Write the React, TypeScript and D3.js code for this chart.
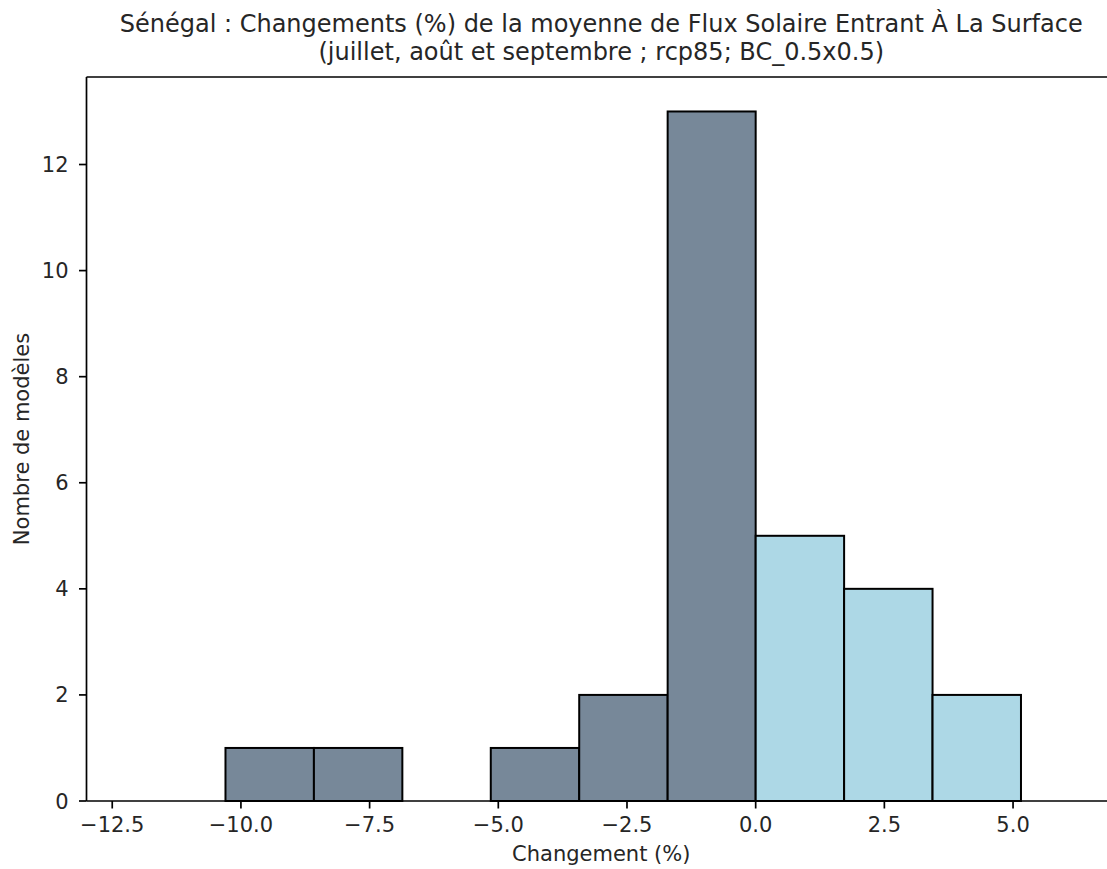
import React from "react";
import * as d3 from "d3";

const binEdges = [-10.3, -8.582, -6.864, -5.146, -3.428, -1.71, 0.0, 1.718, 3.436, 5.154];
const counts = [1, 1, 0, 1, 2, 13, 5, 4, 2];
const xTicks = [-12.5, -10.0, -7.5, -5.0, -2.5, 0.0, 2.5, 5.0];
const yTicks = [0, 2, 4, 6, 8, 10, 12];
const titleLines = [
  "Sénégal : Changements (%) de la moyenne de Flux Solaire Entrant À La Surface",
  "(juillet, août et septembre ; rcp85; BC_0.5x0.5)",
];
const xLabel = "Changement (%)";
const yLabel = "Nombre de modèles";
const negColor = "#778899";
const posColor = "#add8e6";

export default function App() {
  const W = 1107, H = 869;
  const left = 86.5, right = 1116, top = 77, bottom = 801;
  const x = d3.scaleLinear().domain([-13, 7]).range([left, right]);
  const y = d3.scaleLinear().domain([0, 13.65]).range([bottom, top]);
  const font = "DejaVu Sans, sans-serif";
  const fmt = (v: number) => (v < 0 ? "\u2212" : "") + Math.abs(v).toFixed(1);
  const cx = (left + right) / 2;
  const fs = 21;
  const txt = "#262626";
  return (
    <svg width={W} height={H} style={{ position: "absolute", left: 0, top: 0 }} fontFamily={font}>
      <rect x={0} y={0} width={W} height={H} fill="#fff" />
      {counts.map((c, i) => {
        if (c === 0) return null;
        const x0 = x(binEdges[i]);
        const x1 = x(binEdges[i + 1]);
        const mid = (binEdges[i] + binEdges[i + 1]) / 2;
        return (
          <rect key={i} x={x0} y={y(c)} width={x1 - x0} height={y(0) - y(c)}
            fill={mid < 0 ? negColor : posColor} stroke="#000" strokeWidth={2} />
        );
      })}
      <line x1={left} x2={left} y1={top} y2={bottom} stroke="#000" strokeWidth={1.7} />
      <line x1={left} x2={right} y1={bottom} y2={bottom} stroke="#000" strokeWidth={1.7} />
      <line x1={left} x2={right} y1={top} y2={top} stroke="#000" strokeWidth={1.7} />
      <line x1={right} x2={right} y1={top} y2={bottom} stroke="#000" strokeWidth={1.7} />
      {xTicks.map((t) => (
        <g key={t}>
          <line x1={x(t)} x2={x(t)} y1={bottom} y2={bottom + 7.5} stroke="#000" strokeWidth={1.7} />
          <text x={x(t)} y={832} textAnchor="middle" fontSize={fs} fill={txt}>{fmt(t)}</text>
        </g>
      ))}
      {yTicks.map((t) => (
        <g key={t}>
          <line x1={left - 7.5} x2={left} y1={y(t)} y2={y(t)} stroke="#000" strokeWidth={1.7} />
          <text x={left - 18} y={y(t)} dy="0.36em" textAnchor="end" fontSize={fs} fill={txt}>{t}</text>
        </g>
      ))}
      <text x={cx} y={861} textAnchor="middle" fontSize={fs} fill={txt}>{xLabel}</text>
      <text transform={`translate(28.5,${(top + bottom) / 2}) rotate(-90)`} textAnchor="middle" fontSize={fs} fill={txt}>{yLabel}</text>
      {titleLines.map((l, i) => (
        <text key={i} x={cx} y={31.5 + i * 28.5} textAnchor="middle" fontSize={24} fill={txt}>{l}</text>
      ))}
    </svg>
  );
}
